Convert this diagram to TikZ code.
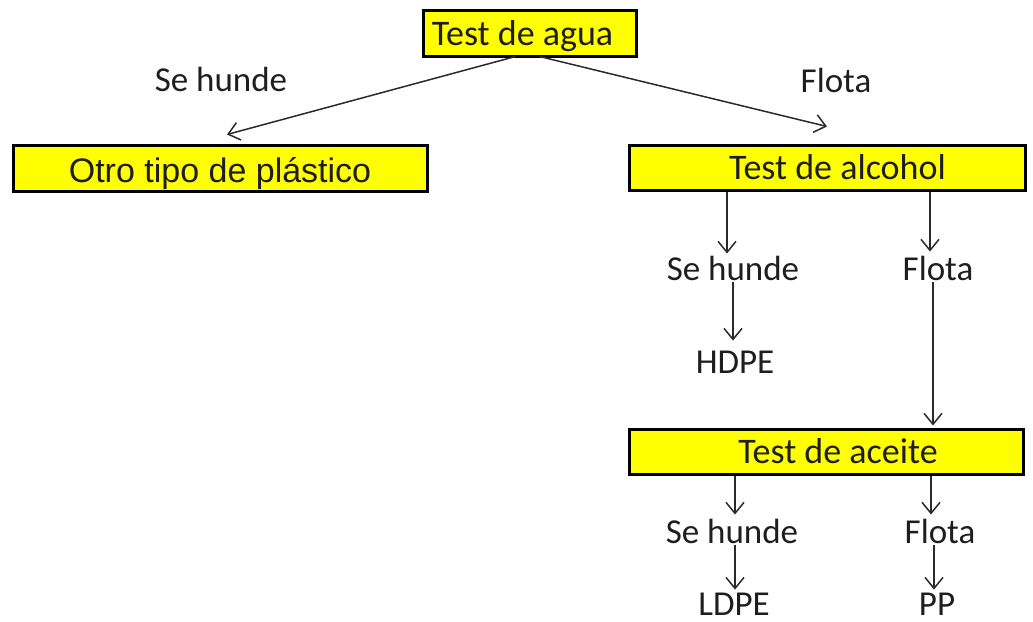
\documentclass[tikz,border=0pt]{standalone}
\usepackage{fontspec}
\setmainfont{Carlito}
\newfontfamily\arialf{Liberation Sans}
\usetikzlibrary{arrows.meta,calc}
\definecolor{txt}{HTML}{1E1E1E}
\definecolor{ln}{HTML}{2A2A2A}
\definecolor{boxfill}{HTML}{FFFF00}
\tikzset{
  box/.style={draw=black, line width=3pt, fill=boxfill, text=txt, inner sep=0pt,
    minimum height=46pt, text height=24pt, text depth=0pt, font=\fontsize{36}{42}\selectfont},
  lbl/.style={text=txt, inner sep=2pt, font=\fontsize{35}{40}\selectfont},
  arr/.style={draw=ln, line width=1.5pt, -{Straight Barb[length=11pt,width=18pt,line width=1.5pt]}}
}
\begin{document}
\begin{tikzpicture}[x=1pt,y=-1pt]
\useasboundingbox (0,0) rectangle (1033,621);
% boxes
\node[box, minimum width=213pt] (agua) at (529.5,33) {Test de agua\hspace*{14pt}};
\node[box, minimum width=414pt, text height=28pt, font=\arialf\fontsize{34}{40}\selectfont] (otro) at (220,168) {Otro tipo de plástico};
\node[box, minimum width=396pt, minimum height=45pt] (alcohol) at (827,167.5) {\hspace*{21pt}Test de alcohol};
\node[box, minimum width=394pt, minimum height=45pt] (aceite) at (826,451.5) {\hspace*{24pt}Test de aceite};
% labels
\node[lbl] (shA) at (221,79) {Se hunde};
\node[lbl] (flA) at (836,80) {Flota};
\node[lbl] (sh1) at (733,268) {Se hunde};
\node[lbl] (fl1) at (938,268) {Flota};
\node[lbl] (hdpe) at (735,362) {HDPE};
\node[lbl] (sh2) at (732,531) {Se hunde};
\node[lbl] (fl2) at (940,531) {Flota};
\node[lbl, inner sep=1pt] (ldpe) at (734,604) {LDPE};
\node[lbl, inner sep=1pt] (pp) at (937,604) {PP};
% connectors
\draw[arr] ($(agua.south)+(-14,-1)$) -- ($(otro.north)+(7,-9)$);
\draw[arr] ($(agua.south)+(10,-1)$) -- ($(alcohol.north)+(0,-17)$);
\draw[arr] ($(alcohol.south -| sh1)+(-6,0)$) -- ($(sh1.north)+(-6,0)$);
\draw[arr] (sh1.south) -- ($(hdpe.north)+(-2,-8)$);
\draw[arr] ($(alcohol.south -| fl1)+(-8,0)$) -- ($(fl1.north)+(-8,-2)$);
\draw[arr] ($(fl1.south)+(-5,0)$) -- ($(aceite.north -| fl1)+(-5,-2)$);
\draw[arr] ($(aceite.south -| sh2)+(3,0)$) -- ($(sh2.north)+(3,-2)$);
\draw[arr] ($(sh2.south)+(3,0)$) -- ($(ldpe.north)+(1,-2)$);
\draw[arr] ($(aceite.south -| fl2)+(-9,0)$) -- ($(fl2.north)+(-9,-2)$);
\draw[arr] ($(fl2.south)+(-6,0)$) -- ($(pp.north)+(-3,-2)$);
\end{tikzpicture}
\end{document}
